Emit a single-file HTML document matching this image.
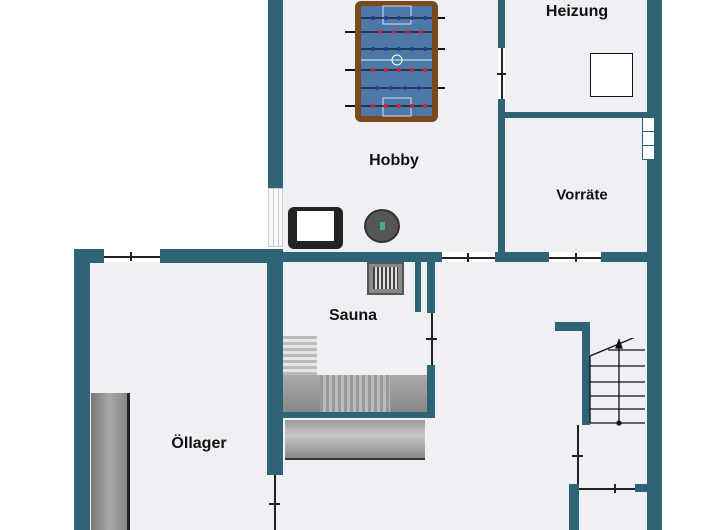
<!DOCTYPE html>
<html><head><meta charset="utf-8"><style>
body{margin:0;width:720px;height:530px;overflow:hidden;background:#fff;position:relative;font-family:"Liberation Sans",sans-serif}
div{position:absolute;box-sizing:border-box}
.w{background:#2f6376}
.f{background:#eef0f4}
.d{background:#222}
.l{font-weight:bold;font-size:16px;color:#111;white-space:nowrap;transform:translate(-50%,-50%)}
</style></head><body>
<!-- floors -->
<div class="f" style="left:283px;top:0;width:215px;height:252px"></div>
<div class="f" style="left:505px;top:0;width:142px;height:252px"></div>
<div class="f" style="left:90px;top:262px;width:557px;height:268px"></div>

<!-- Hobby walls -->
<div class="w" style="left:268px;top:0;width:15px;height:188px"></div>
<div style="left:268px;top:188px;width:15px;height:59px;border:1px solid #ccc;background:#fafafa"></div>
<div style="left:273px;top:188px;width:1px;height:59px;background:#ccc"></div>
<div style="left:278px;top:188px;width:1px;height:59px;background:#ccc"></div>
<div class="w" style="left:498px;top:0;width:7px;height:48px"></div>
<div class="d" style="left:501px;top:48px;width:1.5px;height:51px"></div>
<div class="d" style="left:497px;top:73px;width:9px;height:1.5px"></div>
<div class="w" style="left:498px;top:99px;width:7px;height:155px"></div>
<div class="w" style="left:505px;top:112px;width:142px;height:6px"></div>
<div class="w" style="left:647px;top:0;width:15px;height:530px"></div>
<div style="left:642px;top:117px;width:13px;height:43px;background:#fff;border:1px solid #2f6376"></div>
<div style="left:642px;top:131px;width:13px;height:1px;background:#2f6376"></div>
<div style="left:642px;top:145px;width:13px;height:1px;background:#2f6376"></div>

<!-- horizontal wall y~252 -->
<div class="w" style="left:74px;top:249px;width:30px;height:14px"></div>
<div class="d" style="left:104px;top:256px;width:56px;height:1.5px"></div>
<div class="d" style="left:130px;top:252px;width:1.5px;height:9px"></div>
<div class="w" style="left:160px;top:249px;width:123px;height:14px"></div>
<div class="w" style="left:268px;top:252px;width:174px;height:10px"></div>
<div class="d" style="left:442px;top:257px;width:53px;height:1.5px"></div>
<div class="d" style="left:467px;top:253px;width:1.5px;height:9px"></div>
<div class="w" style="left:495px;top:252px;width:54px;height:10px"></div>
<div class="d" style="left:549px;top:257px;width:52px;height:1.5px"></div>
<div class="d" style="left:575px;top:253px;width:1.5px;height:9px"></div>
<div class="w" style="left:601px;top:252px;width:46px;height:10px"></div>

<!-- left outer wall -->
<div class="w" style="left:74px;top:249px;width:16px;height:281px"></div>

<!-- Öllager/Sauna wall -->
<div class="w" style="left:267px;top:252px;width:16px;height:223px"></div>
<div class="d" style="left:274px;top:475px;width:1.5px;height:55px"></div>
<div class="d" style="left:269px;top:503px;width:11px;height:1.5px"></div>

<!-- Sauna right wall -->
<div class="w" style="left:415px;top:262px;width:6px;height:50px"></div>
<div class="w" style="left:427px;top:262px;width:8px;height:51px"></div>
<div class="d" style="left:431px;top:313px;width:1.5px;height:52px"></div>
<div class="d" style="left:426px;top:338px;width:11px;height:1.5px"></div>
<div class="w" style="left:427px;top:365px;width:8px;height:53px"></div>
<div class="w" style="left:283px;top:412px;width:152px;height:6px"></div>

<!-- Sauna fixtures -->
<div style="left:283px;top:375px;width:144px;height:37px;background:linear-gradient(#aaa,#888)"></div>
<div style="left:320px;top:375px;width:70px;height:37px;background:repeating-linear-gradient(90deg,#999 0 3px,#bbb 3px 6px)"></div>
<div style="left:283px;top:336px;width:34px;height:39px;background:repeating-linear-gradient(#bbb 0 3px,#e6e6e6 3px 6px)"></div>
<div style="left:285px;top:420px;width:140px;height:40px;background:linear-gradient(#999,#c8c8c8 40%,#888);border-bottom:2px solid #333"></div>
<div style="left:367px;top:262px;width:37px;height:33px;background:#888;border:2px solid #555"></div>
<div style="left:373px;top:267px;width:25px;height:22px;background:repeating-linear-gradient(90deg,#444 0 2px,#ddd 2px 4px)"></div>

<!-- Öllager cabinet -->
<div style="left:91px;top:393px;width:36px;height:137px;background:linear-gradient(90deg,#777,#a8a8a8 50%,#888)"></div>
<div class="d" style="left:127px;top:393px;width:3px;height:137px"></div>

<!-- Stairs -->
<div class="w" style="left:555px;top:322px;width:35px;height:9px"></div>
<div class="w" style="left:582px;top:322px;width:8px;height:103px"></div>
<div class="d" style="left:577px;top:425px;width:1.5px;height:62px"></div>
<div class="d" style="left:572px;top:455px;width:11px;height:1.5px"></div>
<svg style="position:absolute;left:588px;top:338px" width="60" height="90">
<g stroke="#111" stroke-width="1.3" fill="none">
<line x1="2" y1="18" x2="57" y2="-5"/>
<line x1="2" y1="18" x2="2" y2="85"/>
<line x1="20" y1="12" x2="57" y2="12"/>
<line x1="2" y1="28" x2="57" y2="28"/>
<line x1="2" y1="44" x2="57" y2="44"/>
<line x1="2" y1="58" x2="57" y2="58"/>
<line x1="2" y1="71" x2="57" y2="71"/>
<line x1="2" y1="85" x2="57" y2="85"/>
<line x1="31" y1="85" x2="31" y2="6"/>
<polygon points="31,2 28,10 34,10" fill="#111"/>
<circle cx="31" cy="85" r="2" fill="#111"/>
</g></svg>
<div class="w" style="left:569px;top:484px;width:10px;height:46px"></div>
<div class="w" style="left:569px;top:484px;width:10px;height:8px"></div>
<div class="d" style="left:579px;top:488px;width:56px;height:1.5px"></div>
<div class="d" style="left:614px;top:484px;width:1.5px;height:9px"></div>
<div class="w" style="left:635px;top:484px;width:12px;height:8px"></div>

<!-- Heater -->
<div style="left:590px;top:53px;width:43px;height:44px;background:#fff;border:1.5px solid #111"></div>

<!-- Foosball -->
<svg style="position:absolute;left:345px;top:0" width="100" height="125">
<g stroke="#111" stroke-width="2">
<line x1="0" y1="32" x2="12" y2="32"/><line x1="0" y1="70" x2="12" y2="70"/><line x1="0" y1="106" x2="12" y2="106"/>
<line x1="88" y1="18" x2="100" y2="18"/><line x1="88" y1="49" x2="100" y2="49"/><line x1="88" y1="88" x2="100" y2="88"/>
</g>
<rect x="10" y="1" width="83" height="121" rx="6" fill="#7a4a1e"/>
<rect x="16" y="6" width="71" height="110" fill="#4e78a8"/>
<line x1="16" y1="60" x2="87" y2="60" stroke="#cfe" stroke-width="1"/>
<circle cx="52" cy="60" r="5" fill="none" stroke="#fff"/>
<rect x="38" y="6" width="28" height="18" fill="none" stroke="#dde"/>
<rect x="38" y="98" width="28" height="18" fill="none" stroke="#dde"/>
<g stroke="#111" stroke-width="1.2">
<line x1="16" y1="18" x2="87" y2="18"/><line x1="16" y1="32" x2="87" y2="32"/><line x1="16" y1="49" x2="87" y2="49"/>
<line x1="16" y1="70" x2="87" y2="70"/><line x1="16" y1="88" x2="87" y2="88"/><line x1="16" y1="106" x2="87" y2="106"/>
</g>
<g fill="#1b3f9a"><circle cx="28" cy="18" r="2"/><circle cx="41" cy="18" r="2"/><circle cx="54" cy="18" r="2"/><circle cx="67" cy="18" r="2"/><circle cx="80" cy="18" r="2"/>
<circle cx="28" cy="49" r="2"/><circle cx="41" cy="49" r="2"/><circle cx="54" cy="49" r="2"/><circle cx="67" cy="49" r="2"/><circle cx="80" cy="49" r="2"/>
<circle cx="32" cy="88" r="2"/><circle cx="46" cy="88" r="2"/><circle cx="60" cy="88" r="2"/><circle cx="74" cy="88" r="2"/></g>
<g fill="#d0203a"><circle cx="35" cy="32" r="2"/><circle cx="49" cy="32" r="2"/><circle cx="63" cy="32" r="2"/><circle cx="76" cy="32" r="2"/>
<circle cx="28" cy="70" r="2"/><circle cx="41" cy="70" r="2"/><circle cx="54" cy="70" r="2"/><circle cx="67" cy="70" r="2"/><circle cx="80" cy="70" r="2"/>
<circle cx="28" cy="106" r="2"/><circle cx="41" cy="106" r="2"/><circle cx="54" cy="106" r="2"/><circle cx="67" cy="106" r="2"/><circle cx="80" cy="106" r="2"/></g>
</svg>

<!-- Armchair -->
<div style="left:288px;top:207px;width:55px;height:42px;background:#222;border-radius:6px"></div>
<div style="left:297px;top:211px;width:37px;height:30px;background:#fff"></div>
<!-- robot -->
<div style="left:364px;top:209px;width:36px;height:34px;border-radius:50%;background:#555;border:2px solid #333"></div>
<div style="left:380px;top:222px;width:5px;height:8px;background:#4a8"></div>

<!-- labels -->
<div class="l" style="left:394px;top:161px">Hobby</div>
<div class="l" style="left:577px;top:12px">Heizung</div>
<div class="l" style="left:582px;top:195px;font-size:15px">Vorräte</div>
<div class="l" style="left:353px;top:316px">Sauna</div>
<div class="l" style="left:199px;top:444px">Öllager</div>
</body></html>
